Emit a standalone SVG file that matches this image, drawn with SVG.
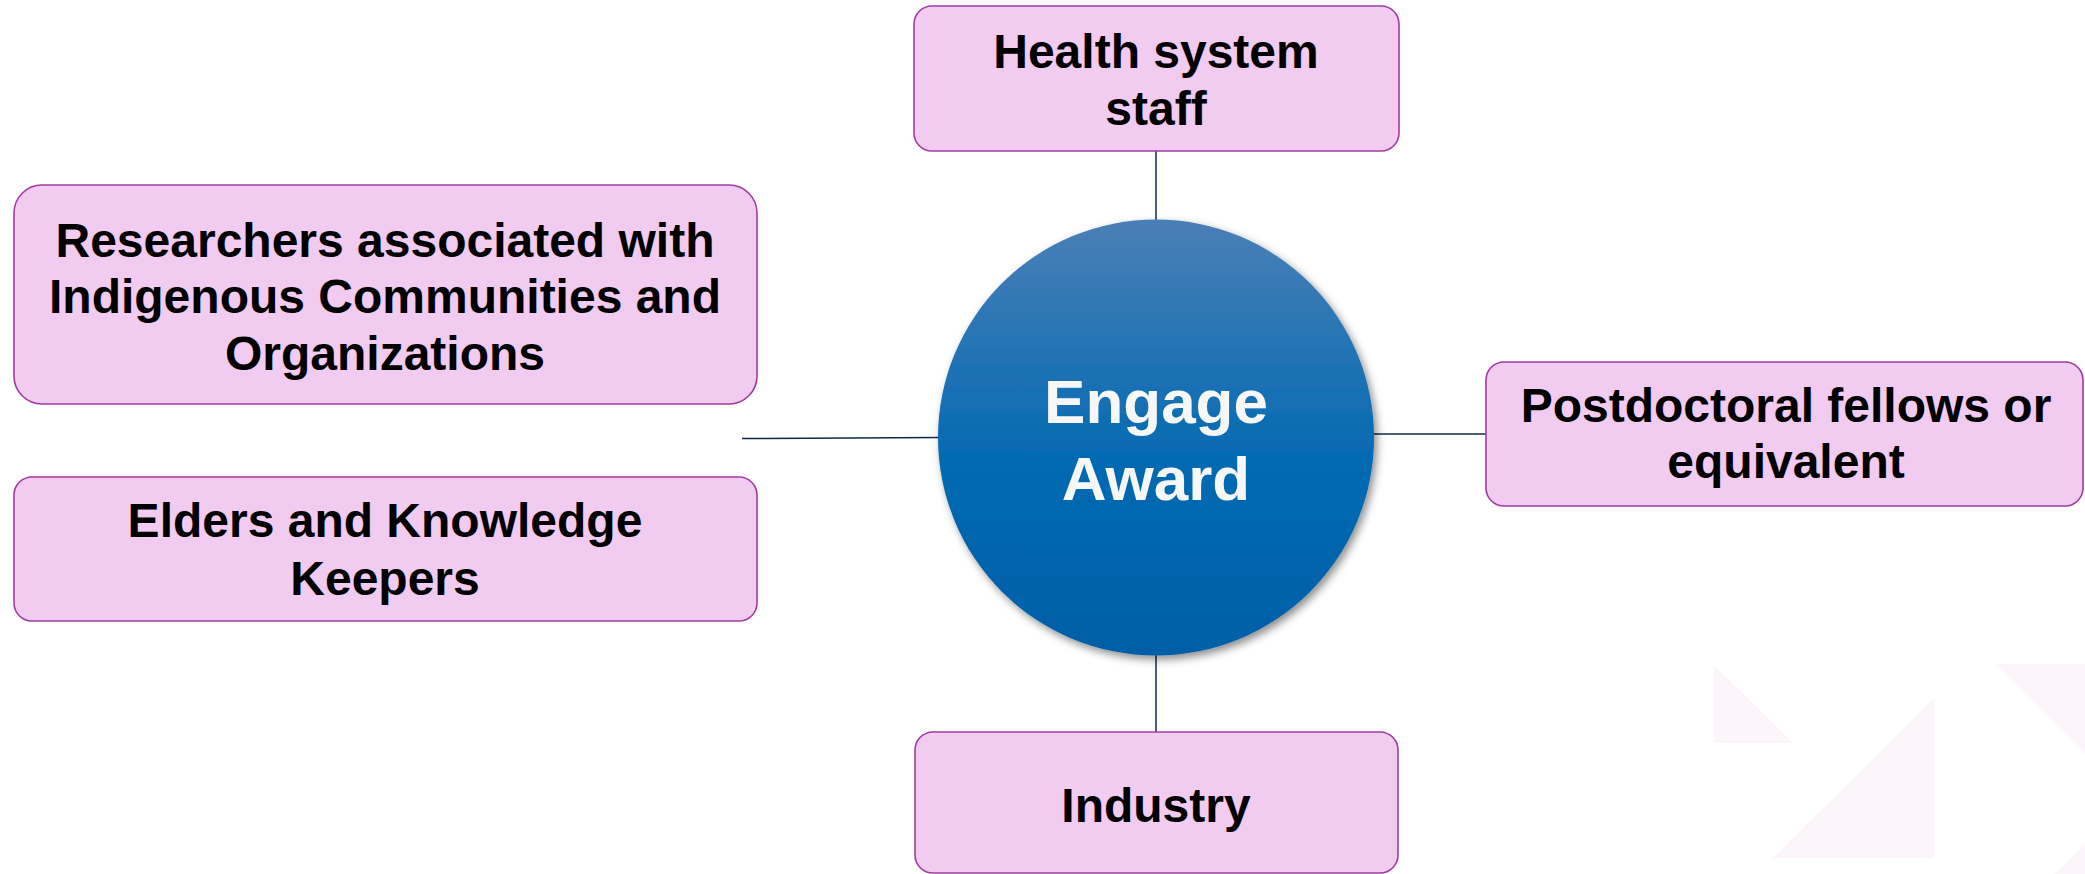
<svg xmlns="http://www.w3.org/2000/svg" width="2085" height="874" viewBox="0 0 2085 874">
  <style>
    .box { fill: #f2cbf0; stroke: #a03ca0; stroke-width: 1.6; }
    .lbl { font-family: "Liberation Sans", Arial, sans-serif; font-weight: bold; font-size: 48px; fill: #000000; text-anchor: middle; }
    .hub { font-family: "Liberation Sans", Arial, sans-serif; font-weight: bold; font-size: 62px; fill: #f7f7f7; text-anchor: middle; }
    .conn { stroke: #0f2a48; stroke-width: 1.5; fill: none; }
    .deco { fill: #fcf6fb; }
  </style>
  <defs>
    <linearGradient id="hubGrad" x1="0" y1="0" x2="0" y2="1">
      <stop offset="0" stop-color="#4a7fb6"/>
      <stop offset="0.55" stop-color="#046ab2"/>
      <stop offset="1" stop-color="#005fa6"/>
    </linearGradient>
    <filter id="shadow" x="-20%" y="-20%" width="140%" height="140%">
      <feDropShadow dx="3" dy="4" stdDeviation="4" flood-color="#000000" flood-opacity="0.45"/>
    </filter>
  </defs>
  <rect width="2085" height="874" fill="#ffffff"/>
  <g id="decoration">
    <polygon class="deco" points="1714,665 1714,743 1793,743"/>
    <polygon class="deco" points="1934,698 1934,858 1773,858"/>
    <polygon class="deco" points="1995,664 2085,664 2085,754"/>
    <polygon class="deco" points="2085,844 2085,874 2055,874"/>
  </g>
  <g id="connectors">
    <line class="conn" x1="1156" y1="151" x2="1156" y2="220"/>
    <line class="conn" x1="1156" y1="655" x2="1156" y2="732"/>
    <line class="conn" x1="742" y1="438.5" x2="939" y2="437.5"/>
    <line class="conn" x1="1373" y1="434" x2="1486" y2="434"/>
  </g>
  <g id="hub">
    <circle cx="1156" cy="437.5" r="218" fill="url(#hubGrad)" filter="url(#shadow)"/>
    <text class="hub" x="1156" y="423">Engage</text>
    <text class="hub" x="1156" y="500">Award</text>
  </g>
  <g id="health">
    <rect class="box" x="914" y="6" width="485" height="145" rx="18"/>
    <text class="lbl" x="1156" y="68">Health system</text>
    <text class="lbl" x="1156" y="125">staff</text>
  </g>
  <g id="researchers">
    <rect class="box" x="14" y="185" width="743" height="219" rx="28"/>
    <text class="lbl" x="385" y="257">Researchers associated with</text>
    <text class="lbl" x="385" y="313">Indigenous Communities and</text>
    <text class="lbl" x="385" y="370">Organizations</text>
  </g>
  <g id="elders">
    <rect class="box" x="14" y="477" width="743" height="144" rx="18"/>
    <text class="lbl" x="385" y="537">Elders and Knowledge</text>
    <text class="lbl" x="385" y="595">Keepers</text>
  </g>
  <g id="postdoc">
    <rect class="box" x="1486" y="362" width="597" height="144" rx="18"/>
    <text class="lbl" x="1786" y="422">Postdoctoral fellows or</text>
    <text class="lbl" x="1786" y="478">equivalent</text>
  </g>
  <g id="industry">
    <rect class="box" x="915" y="732" width="483" height="141" rx="18"/>
    <text class="lbl" x="1156" y="822">Industry</text>
  </g>
</svg>
